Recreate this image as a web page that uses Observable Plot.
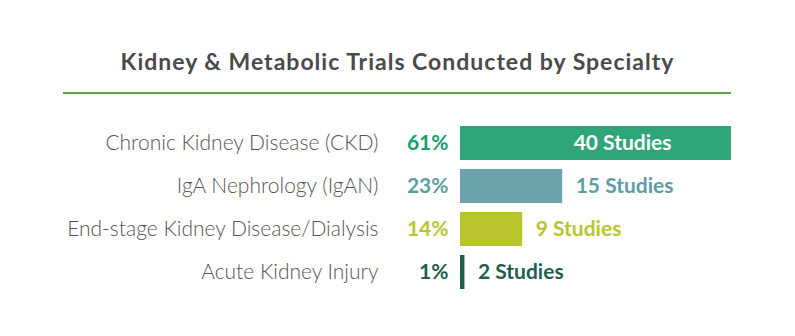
<!DOCTYPE html>
<html>
<head>
<meta charset="utf-8">
<script src="https://cdn.jsdelivr.net/npm/d3@7"></script>
<script src="https://cdn.jsdelivr.net/npm/@observablehq/plot@0.6"></script>
<style>
  html, body { margin: 0; padding: 0; background: #ffffff; }
  #wrap { width: 795px; height: 336px; overflow: hidden; }
  #title { width: 795px; height: 92px; box-sizing: border-box; padding-top: 47px; text-align: center;
           font: 700 23px Lato, "Open Sans", sans-serif; line-height: 28px; letter-spacing: 1px; color: #4a4a4a; }
  #rule { margin-left: 63px; width: 668px; height: 2px; background: #59a948; }
  svg { display: block; }
</style>
</head>
<body>
<div id="wrap">
  <div id="title">Kidney &amp; Metabolic Trials Conducted by Specialty</div>
  <div id="rule"></div>
  <div id="chart"></div>
</div>
<script>
const categories = ["Chronic Kidney Disease (CKD)", "IgA Nephrology (IgAN)", "End-stage Kidney Disease/Dialysis", "Acute Kidney Injury"];
const percents = [61, 23, 14, 1];
const studies = [40, 15, 9, 2];
const barColors = ["#2ea67a", "#6aa3aa", "#b8c62b", "#1f5e4f"];
const pctColors = ["#17a06e", "#5f9ca3", "#b8c62b", "#1f5e4f"];

const rows = categories.map((c, i) => ({
  cat: c, pct: percents[i], n: studies[i], bar: barColors[i], pc: pctColors[i], inside: i === 0
}));

const chart = Plot.plot({
  width: 795,
  height: 242,
  marginTop: 22,
  marginBottom: 38,
  marginLeft: 460,
  marginRight: 64,
  x: { domain: [0, 61], axis: null },
  y: { domain: categories, axis: null, padding: 0.21 },
  style: { fontFamily: "Lato, 'Open Sans', sans-serif", background: "#ffffff" },
  marks: [
    Plot.barX(rows, { x: "pct", y: "cat", fill: d => d.bar }),
    Plot.text(rows, { x: 0, y: "cat", text: "cat", textAnchor: "end", dx: -82,
      fill: "#555555", fontSize: 21, fontWeight: 300 }),
    Plot.text(rows, { x: 0, y: "cat", text: d => d.pct + "%", textAnchor: "end", dx: -12,
      fill: d => d.pc, fontSize: 21, fontWeight: 700 }),
    Plot.text(rows.filter(d => d.inside), { x: "pct", y: "cat", text: d => d.n + " Studies", textAnchor: "end", dx: -60,
      fill: "#ffffff", fontSize: 21, fontWeight: 700 }),
    Plot.text(rows.filter(d => !d.inside), { x: "pct", y: "cat", text: d => d.n + " Studies", textAnchor: "start", dx: 13,
      fill: d => d.pc, fontSize: 21, fontWeight: 700 })
  ]
});
document.getElementById("chart").appendChild(chart);
</script>
</body>
</html>
